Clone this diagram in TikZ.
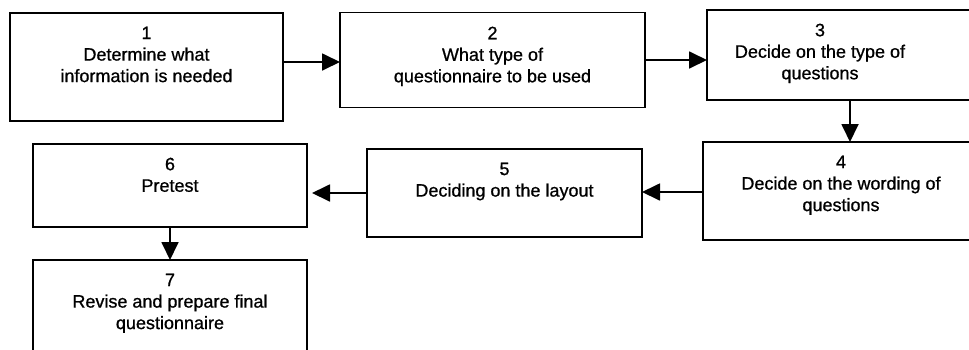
\documentclass[tikz,border=0pt]{standalone}
\usepackage{fontspec}
\setmainfont{Liberation Sans}[FakeBold=0.8]
\usetikzlibrary{arrows.meta}
\begin{document}
\begin{tikzpicture}[x=1pt,y=-1pt,
  stepbox/.style 2 args={draw,line width=1.8pt,minimum width=#1,minimum height=#2,inner sep=0pt,outer sep=0pt},
  lbl/.style={anchor=north,align=center,inner sep=0pt,font=\fontsize{18}{21.5}\selectfont},
  arr/.style={line width=1.8pt,-{Triangle[length=18pt,width=17pt]}}]
\useasboundingbox (0,0) rectangle (969,349);
% boxes
\node[stepbox={273pt}{108pt}] (b1) at (146.5,67) {};
\node[stepbox={305pt}{95pt}]  (b2) at (492.5,60) {};
\node[stepbox={286pt}{90pt}]  (b3) at (850,55) {};
\node[stepbox={294pt}{98pt}]  (b4) at (850,191) {};
\node[stepbox={275pt}{88pt}]  (b5) at (504.5,193) {};
\node[stepbox={274pt}{83pt}]  (b6) at (170,185.5) {};
\node[stepbox={274pt}{110pt}] (b7) at (170,315) {};
% texts
\node[lbl] (t1) at (146.5,26.5) {1\\Determine what\\information is needed};
\node[lbl] (t2) at (492.5,26.5) {2\\What type of\\questionnaire to be used};
\node[lbl] (t3) at (820,23.5) {3\\Decide on the type of\\questions};
\node[lbl] (t4) at (841,155.5) {4\\Decide on the wording of\\questions};
\node[lbl] (t5) at (504.5,162.5) {5\\Deciding on the layout};
\node[lbl] (t6) at (170,157.5) {6\\Pretest};
\node[lbl] (t7) at (170,273.5) {7\\Revise and prepare final\\questionnaire};
% connectors
\draw[arr] ([yshift=5pt]b1.east) -- ([yshift=5pt]b1.east -| b2.west);
\draw[arr] (b2.east) -- (b2.east -| b3.west);
\draw[arr] (b3.south) -- (b3.south |- b4.north);
\draw[arr] ([yshift=-1pt]b4.west) -- ([yshift=-1pt]b4.west -| b5.east);
\draw[arr] (b5.west) -- ([xshift=5pt]b5.west -| b6.east);
\draw[arr] (b6.south) -- (b6.south |- b7.north);
\end{tikzpicture}
\end{document}
